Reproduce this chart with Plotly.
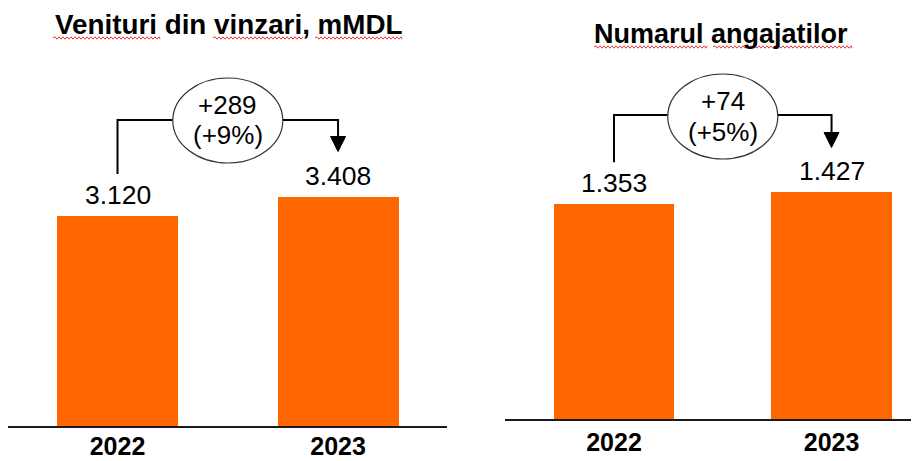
import plotly.graph_objects as go

W, H = 919, 461
OFF = 8  # page body margin: the figure starts 8px in from the window corner

years = ['2022', '2023']
venituri = [3120, 3408]
angajati = [1353, 1427]
titles = ['Venituri din vinzari, mMDL', 'Numarul angajatilor']
delta_abs = ['+289', '+74']
delta_pct = ['(+9%)', '(+5%)']

ORANGE = '#FF6600'
FONT = 'Liberation Sans, Arial, sans-serif'

# panel geometry in window pixels
panels = [
    dict(x0=8, x1=447, base=426, r=(-0.4966, 1.494), upp=14.85, bw=0.549,
         title_xy=(229, 24), title_size=27.8, tick_standoff=-3,
         sq=[(53, 160), (213, 303), (315, 402)], sq_y=38,
         top_off=306, ell_y=120.5),
    dict(x0=505, x1=919, base=419, r=(-0.501, 1.402), upp=6.30, bw=0.554,
         title_xy=(721, 34), title_size=27, tick_standoff=0,
         sq=[(594, 707), (713, 852)], sq_y=47,
         top_off=304, ell_y=116.5),
]
series = [venituri, angajati]


def px(p, v):
    # category position -> window pixel x
    return p['x0'] + (v - p['r'][0]) * (p['x1'] - p['x0']) / (p['r'][1] - p['r'][0])


def fx(x):
    return (x - OFF) / W


def fy(y):
    return 1 - (y - OFF) / H


def label(x, y, text, size, bold=False):
    return dict(x=fx(x), y=fy(y), xref='paper', yref='paper', xanchor='center',
                yanchor='middle', showarrow=False, text=text,
                font=dict(family=FONT, size=size, color='black',
                          weight='bold' if bold else 'normal'))


fig = go.Figure()
shapes = []
annotations = []

for k, (p, vals) in enumerate(zip(panels, series)):
    xa = 'x' if k == 0 else 'x2'
    ya = 'y' if k == 0 else 'y2'
    fig.add_trace(go.Bar(x=[0, 1], y=vals, width=p['bw'], marker_color=ORANGE,
                         marker_line_width=0, xaxis=xa, yaxis=ya,
                         hoverinfo='skip', showlegend=False))
    axn = '' if k == 0 else '2'
    plot_h = p['base'] - OFF
    fig.update_layout(**{
        'xaxis' + axn: dict(domain=[(p['x0'] - OFF) / W, min(1, (p['x1'] - OFF) / W)],
                            range=list(p['r']), anchor=ya, tickvals=[0, 1], ticktext=years,
                            showline=True, linecolor='#1a1a1a', linewidth=2,
                            showgrid=False, zeroline=False, ticks='',
                            ticklabelstandoff=p['tick_standoff'],
                            tickfont=dict(family=FONT, size=25, color='black', weight='bold')),
        'yaxis' + axn: dict(domain=[(H - plot_h) / H, 1],
                            range=[0, plot_h * p['upp']], anchor=xa,
                            visible=False, showgrid=False),
    })

    # value labels
    for i, v in enumerate(vals):
        annotations.append(dict(x=i, y=v, xref=xa, yref=ya, yanchor='bottom',
                                yshift=4, showarrow=False,
                                text=f'{v:,}'.replace(',', '.'),
                                font=dict(family=FONT, size=26.5, color='black')))

    # title + spell-check squiggles
    tx, ty = p['title_xy']
    annotations.append(label(tx, ty, titles[k], p['title_size'], bold=True))
    for a, b in p['sq']:
        path = f'M {fx(a)} {fy(p["sq_y"])}'
        x = a
        up = True
        while x < b:
            x = min(x + 2, b)
            path += f' L {fx(x)} {fy(p["sq_y"] + (-1.2 if up else 1.2))}'
            up = not up
        shapes.append(dict(type='path', path=path, xref='paper', yref='paper',
                           line=dict(color='#e8393a', width=1)))

    # bracket with ellipse and arrow
    top0 = p['base'] - vals[0] / p['upp']
    top1 = p['base'] - vals[1] / p['upp']
    xl, xr, xm = px(p, 0), px(p, 1), px(p, 0.5)
    yb = p['base'] - p['top_off']
    ew, eh = 55, 42.5
    yc = p['ell_y']
    shapes.append(dict(type='path', xref='paper', yref='paper',
                       path=f'M {fx(xl)} {fy(top0 - 42)} L {fx(xl)} {fy(yb)} L {fx(xm - ew)} {fy(yb)}',
                       line=dict(color='black', width=2)))
    tip = top1 - 45
    shapes.append(dict(type='path', xref='paper', yref='paper',
                       path=f'M {fx(xm + ew)} {fy(yb)} L {fx(xr)} {fy(yb)} L {fx(xr)} {fy(tip - 14)}',
                       line=dict(color='black', width=2)))
    shapes.append(dict(type='path', xref='paper', yref='paper',
                       path=f'M {fx(xr - 7.5)} {fy(tip - 15)} L {fx(xr + 7.5)} {fy(tip - 15)} L {fx(xr)} {fy(tip)} Z',
                       fillcolor='black', line=dict(color='black', width=1)))
    shapes.append(dict(type='circle', xref='paper', yref='paper',
                       x0=fx(xm - ew), x1=fx(xm + ew), y0=fy(yc - eh), y1=fy(yc + eh),
                       fillcolor='white', line=dict(color='#333333', width=1.2)))
    annotations.append(label(xm, yc - 15.5, delta_abs[k], 26))
    annotations.append(label(xm, yc + 15, delta_pct[k], 26))

fig.update_layout(width=W, height=H, margin=dict(l=0, r=0, t=0, b=0),
                  paper_bgcolor='white', plot_bgcolor='white',
                  shapes=shapes, annotations=annotations, bargap=0)
fig.write_html('out.html')
